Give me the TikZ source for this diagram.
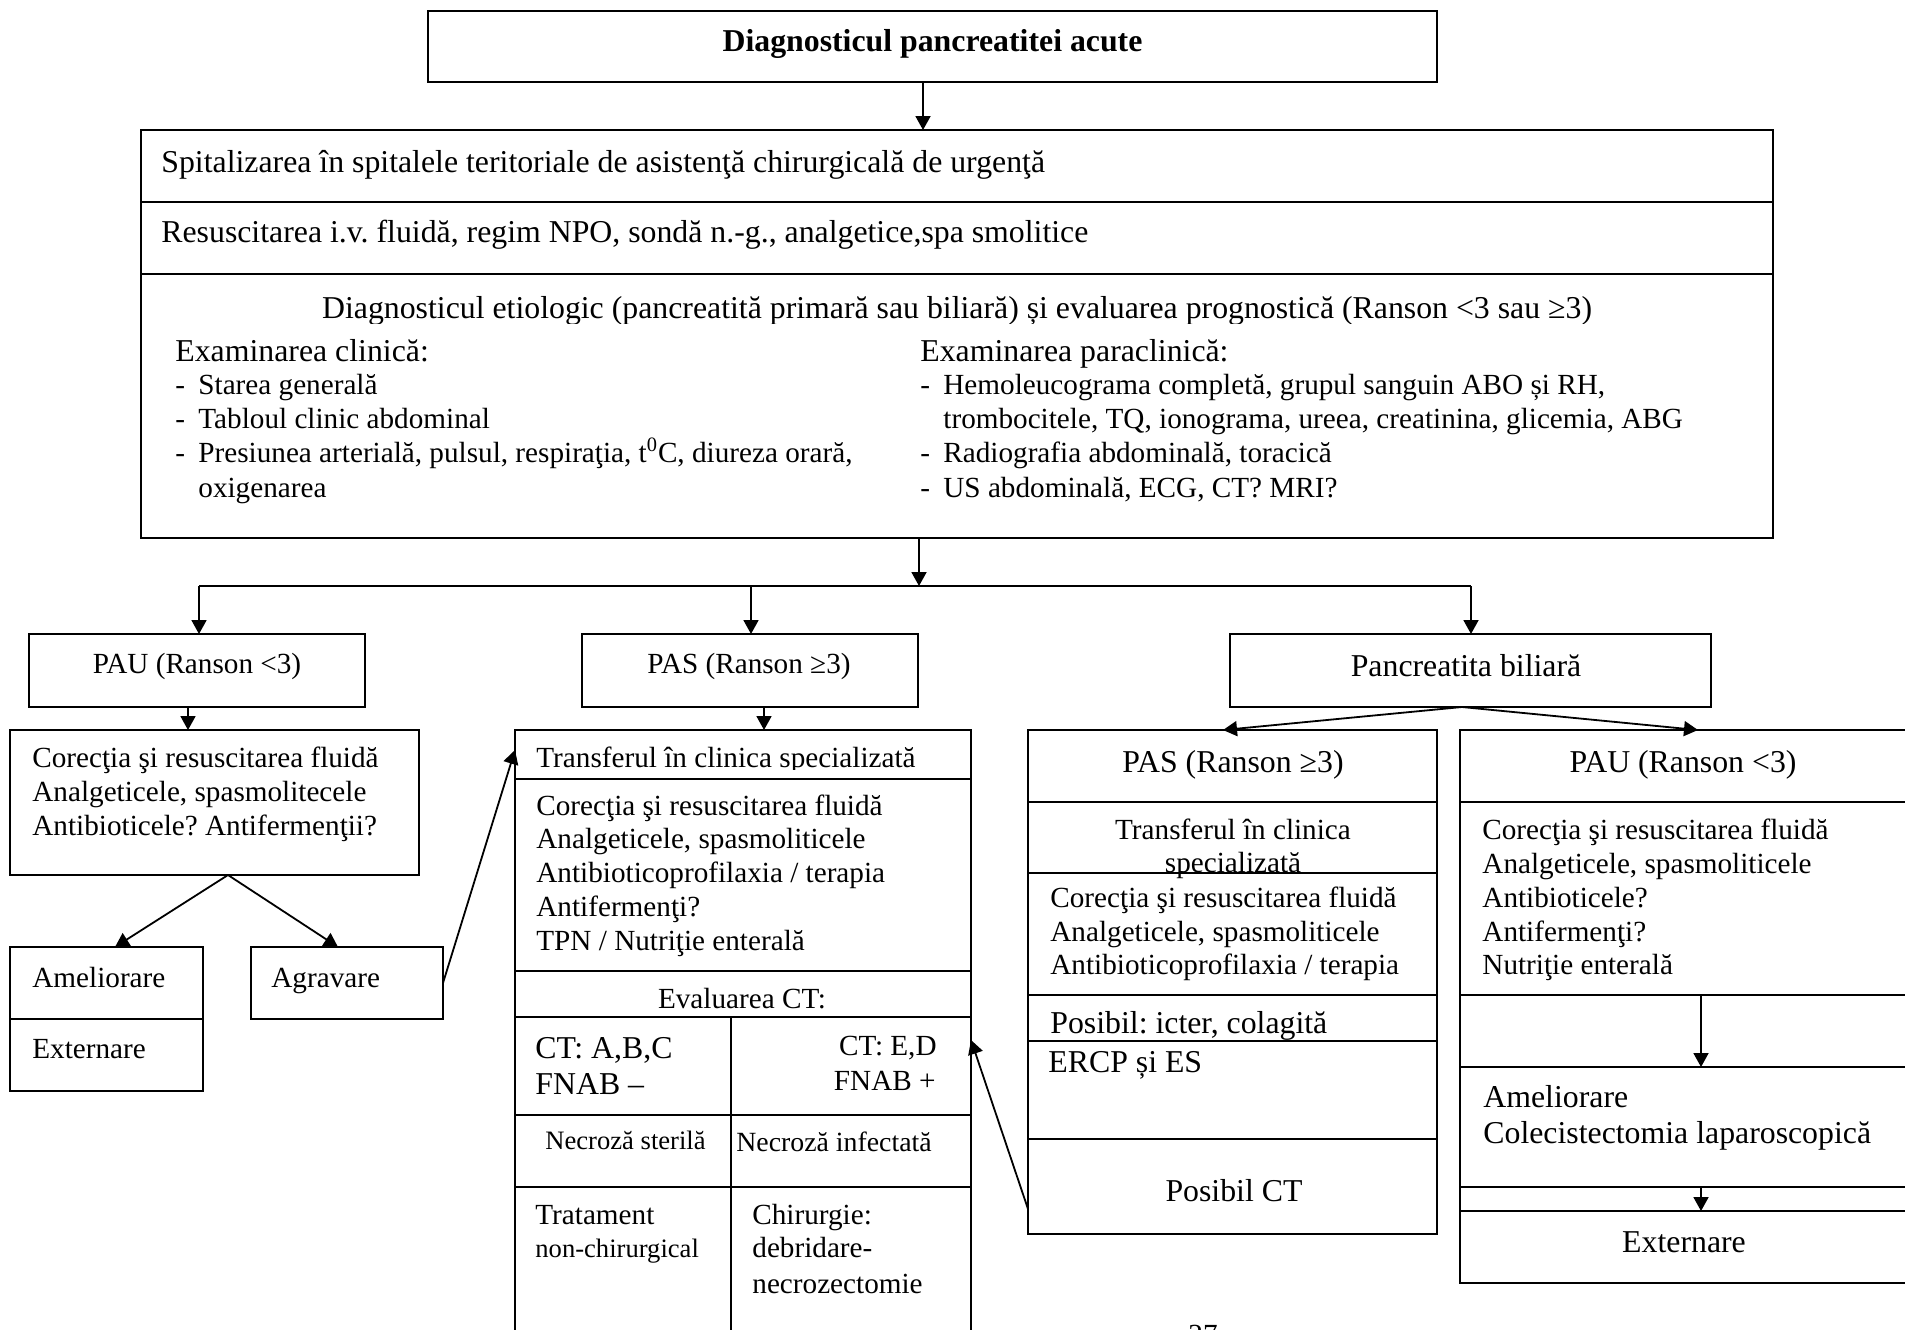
\documentclass[tikz,border=0pt]{standalone}
\usepackage{fontspec}
\setmainfont{Liberation Serif}
\usetikzlibrary{arrows.meta}
\frenchspacing
\newcounter{tn}
\tikzset{
  bx/.style={draw, line width=1pt, inner sep=0pt, outer sep=0pt, anchor=north west},
  txt/.style={inner sep=0pt, anchor=base west},
  fT/.style={font=\fontsize{15.9}{18}\selectfont\bfseries},
  fA/.style={font=\fontsize{15.9}{18}\selectfont},
  fB/.style={font=\fontsize{14.6}{17}\selectfont},
  fM/.style={font=\fontsize{13.9}{16}\selectfont},
  fS/.style={font=\fontsize{13.3}{15}\selectfont},
  arr/.style={line width=0.9pt, -{Triangle[length=7pt,width=7.5pt]}},
  ln/.style={line width=1pt},
}
\newcommand\mkbox[5]{\node[bx, minimum width={(#4-#2)*0.5pt}, minimum height={(#5-#3)*0.5pt}] (#1) at (#2,#3) {};}
\newcommand\tx[4][]{\stepcounter{tn}\node[txt,#1] (t\arabic{tn}) at (#2,#3) {#4};}
\begin{document}
\begin{tikzpicture}[x=0.5pt,y=-0.5pt]
\useasboundingbox (0,0) rectangle (1905,1329);
\clip (0,0) rectangle (1905,1329);

% ---------- boxes ----------
\mkbox{title}{428}{11}{1437}{82}
\mkbox{big}{141}{130}{1773}{538}
\mkbox{pau}{29}{634}{365}{707}
\mkbox{pas}{582}{634}{918}{707}
\mkbox{bil}{1230}{634}{1711}{707}
\mkbox{corL}{10}{730}{419}{875}
\mkbox{amel}{10}{947}{203}{1019}
\mkbox{ext}{10}{1019}{203}{1091}
\mkbox{agr}{251}{947}{443}{1019}
\mkbox{det}{515}{730}{971}{1345}
\mkbox{bpas}{1028}{730}{1437}{1234}
\mkbox{bpau}{1460}{730}{1925}{1283}

% ---------- dividers ----------
\draw[ln] (141,202) -- (1773,202);
\draw[ln] (141,274) -- (1773,274);
\foreach \yy in {779,971,1017,1115,1187} \draw[ln] (515,\yy) -- (971,\yy);
\draw[ln] (731,1017) -- (731,1345);
\foreach \yy in {802,873,995,1041,1139} \draw[ln] (1028,\yy) -- (1437,\yy);
\foreach \yy in {802,995,1067,1187,1211} \draw[ln] (1460,\yy) -- (1925,\yy);

% ---------- texts ----------
\tx[fT,anchor=base]{932.5}{51}{Diagnosticul pancreatitei acute}

\tx[fA]{161}{172}{Spitalizarea în spitalele teritoriale de asistenţă chirurgicală de urgenţă}
\tx[fA]{161}{242}{Resuscitarea i.v. fluidă, regim NPO, sondă n.-g., analgetice,spa smolitice}
\begin{scope}
\clip (142,276) rectangle (1772,323);
\tx[fA,anchor=base]{957}{318}{Diagnosticul etiologic (pancreatită primară sau biliară) și evaluarea prognostică (Ranson <3 sau ≥3)}
\end{scope}
\tx[fA]{175}{361}{Examinarea clinică:}
\tx[fB]{175}{394}{-}\tx[fB]{198}{394}{Starea generală}
\tx[fB]{175}{428}{-}\tx[fB]{198}{428}{Tabloul clinic abdominal}
\tx[fB]{175}{462}{-}\tx[fB]{198}{462}{Presiunea arterială, pulsul, respiraţia, t\textsuperscript{0}C, diureza orară,}
\tx[fB]{198}{497}{oxigenarea}
\tx[fA]{920}{361}{Examinarea paraclinică:}
\tx[fB]{920}{394}{-}\tx[fB]{943}{394}{Hemoleucograma completă, grupul sanguin ABO și RH,}
\tx[fB]{943}{428}{trombocitele, TQ, ionograma, ureea, creatinina, glicemia, ABG}
\tx[fB]{920}{462}{-}\tx[fB]{943}{462}{Radiografia abdominală, toracică}
\tx[fB]{920}{497}{-}\tx[fB]{943}{497}{US abdominală, ECG, CT? MRI?}

\tx[fB,anchor=base]{197}{673}{PAU (Ranson <3)}
\tx[fB,anchor=base]{749}{673}{PAS (Ranson ≥3)}
\tx[fA,anchor=base]{1466}{676}{Pancreatita biliară}

\tx[fB]{32}{767}{Corecţia şi resuscitarea fluidă}
\tx[fB]{32}{801}{Analgeticele, spasmolitecele}
\tx[fB]{32}{835}{Antibioticele? Antifermenţii?}
\tx[fB]{32}{987}{Ameliorare}
\tx[fB]{32}{1058}{Externare}
\tx[fB]{271}{987}{Agravare}

\begin{scope}
\clip (516,731) rectangle (970,769);
\tx[fB]{536}{767}{Transferul în clinica specializată}
\end{scope}
\tx[fB]{536}{815}{Corecţia şi resuscitarea fluidă}
\tx[fB]{536}{848}{Analgeticele, spasmoliticele}
\tx[fB]{536}{882}{Antibioticoprofilaxia / terapia}
\tx[fB]{536}{916}{Antifermenţi?}
\tx[fB]{536}{950}{TPN / Nutriţie enterală}
\tx[fB,anchor=base]{742}{1008}{Evaluarea CT:}
\tx[fA]{535}{1058}{CT: A,B,C}
\tx[fA]{535}{1094}{FNAB –}
\tx[fB,anchor=base east]{937}{1055}{CT: E,D}
\tx[fB,anchor=base east]{936}{1090}{FNAB +}
\tx[fS]{545}{1149}{Necroză sterilă}
\tx[fM]{736}{1151}{Necroză infectată}
\tx[fB]{535}{1224}{Tratament}
\tx[fS]{535}{1257}{non-chirurgical}
\tx[fB]{752}{1224}{Chirurgie:}
\tx[fB]{752}{1257}{debridare-}
\tx[fB]{752}{1293}{necrozectomie}

\tx[fA,anchor=base]{1233}{772}{PAS (Ranson ≥3)}
\tx[fB,anchor=base]{1233}{839}{Transferul în clinica}
\tx[fB,anchor=base]{1233}{872}{specializată}
\tx[fB]{1050}{907}{Corecţia şi resuscitarea fluidă}
\tx[fB]{1050}{941}{Analgeticele, spasmoliticele}
\tx[fB]{1050}{974}{Antibioticoprofilaxia / terapia}
\tx[fA]{1050}{1033}{Posibil: icter, colagită}
\tx[fA]{1048}{1072}{ERCP și ES}
\tx[fA,anchor=base]{1234}{1201}{Posibil CT}

\tx[fA,anchor=base]{1683}{772}{PAU (Ranson <3)}
\tx[fB]{1482}{839}{Corecţia şi resuscitarea fluidă}
\tx[fB]{1482}{873}{Analgeticele, spasmoliticele}
\tx[fB]{1482}{907}{Antibioticele?}
\tx[fB]{1482}{941}{Antifermenţi?}
\tx[fB]{1482}{974}{Nutriţie enterală}
\tx[fA]{1483}{1107}{Ameliorare}
\tx[fA]{1483}{1143}{Colecistectomia laparoscopică}
\tx[fA,anchor=base]{1684}{1252}{Externare}

\tx[fB,anchor=base]{1203}{1344}{27}

% ---------- connectors ----------
\coordinate (hub) at (919,586);
\coordinate (hl) at (199,586);
\coordinate (hr) at (1471,586);
\draw[arr] (title.south -| 923,0) -- (big.north -| 923,0);
\draw[arr] (big.south -| hub) -- (hub);
\draw[ln] (hl) -- (hr);
\draw[arr] (hl) -- (pau.north -| hl);
\draw[arr] (hl -| 751,0) -- (pas.north -| 751,0);
\draw[arr] (hr) -- (bil.north -| hr);
\draw[arr] (pau.south -| 188,0) -- (corL.north -| 188,0);
\draw[arr] (pas.south -| 764,0) -- (det.north -| 764,0);
\draw[arr] (corL.south -| 228,0) -- (amel.north -| 115,0);
\draw[arr] (corL.south -| 228,0) -- (agr.north -| 338,0);
\draw[arr] (agr.east |- 0,983) -- (det.west |- 0,750);
\draw[arr] (bil.south -| 1462,0) -- (bpas.north -| 1223,0);
\draw[arr] (bil.south -| 1462,0) -- (bpau.north -| 1698,0);
\draw[arr] (bpas.west |- 0,1209) -- (det.east |- 0,1040);
\coordinate (r1) at (1701,995);
\coordinate (r2) at (1701,1067);
\coordinate (r3) at (1701,1187);
\coordinate (r4) at (1701,1211);
\draw[arr] (r1) -- (r2);
\draw[arr] (r3) -- (r4);
\end{tikzpicture}
\end{document}
